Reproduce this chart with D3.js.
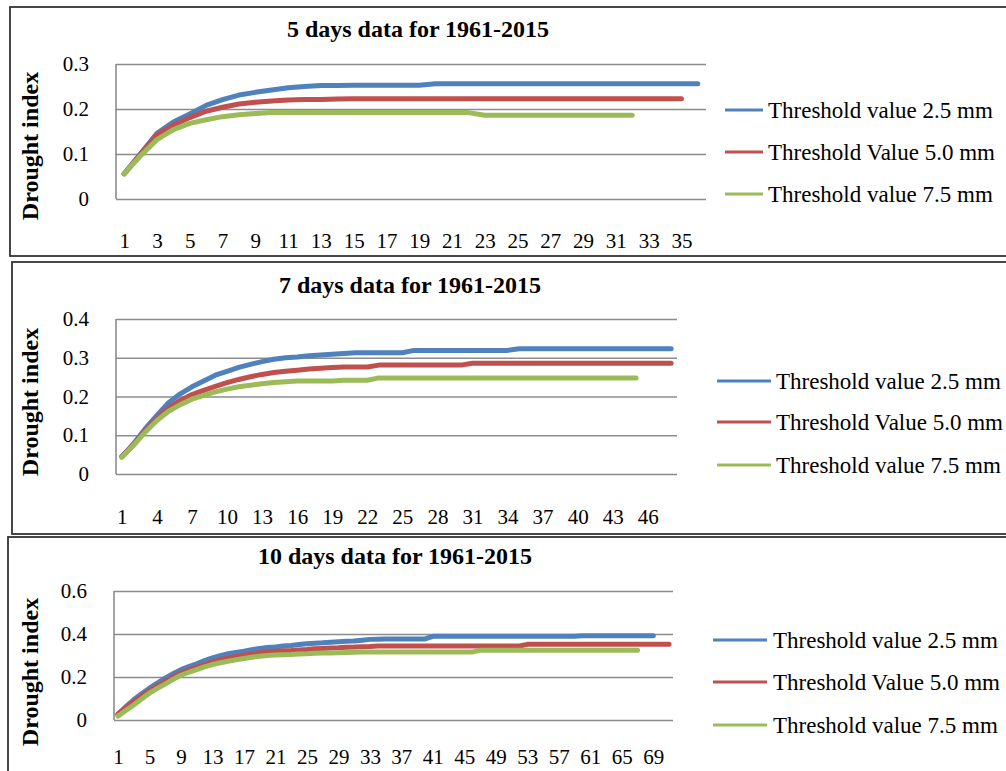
<!DOCTYPE html>
<html>
<head>
<meta charset="utf-8">
<script src="https://cdn.jsdelivr.net/npm/d3@7"></script>
<style>
  body { margin: 0; background: #fff; }
  text { font-family: "Liberation Serif", "Times New Roman", serif; fill: #000; }
</style>
</head>
<body>
<div id="chart"></div>
<script>
// Drought index curves
const seriesNames = ["Threshold value 2.5 mm", "Threshold Value 5.0 mm", "Threshold value 7.5 mm"];
const colors = ["#4f81bd", "#c0504d", "#9bbb59"];

// 5 days (36 categories)
const blue5 = [0.056, 0.101, 0.146, 0.171, 0.189, 0.208, 0.221, 0.231, 0.237, 0.242, 0.247, 0.250, 0.252, 0.252, 0.253, 0.253, 0.253, 0.253, 0.253,
  0.256, 0.256, 0.256, 0.256, 0.256, 0.256, 0.256, 0.256, 0.256, 0.256, 0.256, 0.256, 0.256, 0.256, 0.256, 0.256, 0.256];
const red5 = [0.056, 0.100, 0.143, 0.164, 0.181, 0.195, 0.204, 0.211, 0.215, 0.218, 0.220, 0.221, 0.221, 0.222,
  0.223, 0.223, 0.223, 0.223, 0.223, 0.223, 0.223, 0.223, 0.223, 0.223, 0.223, 0.223, 0.223, 0.223, 0.223, 0.223, 0.223, 0.223, 0.223, 0.223, 0.223];
const green5 = [0.056, 0.096, 0.132, 0.154, 0.168, 0.176, 0.183, 0.187, 0.190, 0.192,
  0.192, 0.192, 0.192, 0.192, 0.192, 0.192, 0.192, 0.192, 0.192, 0.192, 0.192, 0.192,
  0.186, 0.186, 0.186, 0.186, 0.186, 0.186, 0.186, 0.186, 0.186, 0.186];

// 7 days (48 categories)
const blue7 = [0.045, 0.078, 0.117, 0.151, 0.184, 0.207, 0.225, 0.240, 0.255, 0.265, 0.275, 0.283, 0.290, 0.296, 0.300, 0.302, 0.305, 0.307, 0.309, 0.311,
  0.313, 0.313, 0.313, 0.313, 0.313,
  0.319, 0.319, 0.319, 0.319, 0.319, 0.319, 0.319, 0.319, 0.319,
  0.323, 0.323, 0.323, 0.323, 0.323, 0.323, 0.323, 0.323, 0.323, 0.323, 0.323, 0.323, 0.323, 0.323];
const red7 = [0.045, 0.075, 0.112, 0.144, 0.170, 0.190, 0.205, 0.216, 0.226, 0.236, 0.244, 0.251, 0.257, 0.262, 0.265, 0.268, 0.271, 0.273, 0.275, 0.276, 0.276, 0.276,
  0.281, 0.281, 0.281, 0.281, 0.281, 0.281, 0.281, 0.281,
  0.286, 0.286, 0.286, 0.286, 0.286, 0.286, 0.286, 0.286, 0.286, 0.286, 0.286, 0.286, 0.286, 0.286, 0.286, 0.286, 0.286, 0.286];
const green7 = [0.043, 0.074, 0.108, 0.138, 0.162, 0.179, 0.193, 0.203, 0.212, 0.219, 0.225, 0.229, 0.233, 0.236, 0.238, 0.240, 0.240, 0.240, 0.240, 0.242, 0.242, 0.242,
  0.248, 0.248, 0.248, 0.248, 0.248, 0.248, 0.248, 0.248, 0.248, 0.248, 0.248, 0.248, 0.248, 0.248, 0.248, 0.248, 0.248, 0.248, 0.248, 0.248, 0.248, 0.248, 0.248];

// 10 days (71 categories)
const blue10 = [0.025, 0.062, 0.094, 0.122, 0.148, 0.172, 0.195, 0.215, 0.234, 0.248, 0.261, 0.276, 0.289, 0.299, 0.308, 0.314, 0.320, 0.327, 0.333, 0.337,
  0.340, 0.344, 0.347, 0.351, 0.355, 0.357, 0.359, 0.362, 0.364, 0.366, 0.367, 0.371, 0.375, 0.376,
  0.377, 0.377, 0.377, 0.377, 0.377, 0.377,
  0.389, 0.389, 0.389, 0.389, 0.389, 0.389, 0.389, 0.389, 0.389, 0.389, 0.389, 0.389, 0.389, 0.389, 0.389, 0.389, 0.389, 0.389, 0.389,
  0.392, 0.392, 0.392, 0.392, 0.392, 0.392, 0.392, 0.392, 0.392, 0.392];
const red10 = [0.028, 0.058, 0.086, 0.112, 0.136, 0.159, 0.180, 0.200, 0.219, 0.233, 0.245, 0.258, 0.270, 0.280, 0.289, 0.296, 0.302, 0.308, 0.313, 0.317,
  0.320, 0.322, 0.323, 0.326, 0.328, 0.331, 0.333, 0.335, 0.336, 0.338, 0.339, 0.341, 0.342,
  0.344, 0.344, 0.344, 0.344, 0.344, 0.344, 0.344, 0.344, 0.344, 0.344, 0.344, 0.344, 0.344, 0.344, 0.344, 0.344, 0.344, 0.344, 0.344,
  0.352, 0.352, 0.352, 0.352, 0.352, 0.352, 0.352, 0.352, 0.352, 0.352, 0.352, 0.352, 0.352, 0.352, 0.352, 0.352, 0.352, 0.352, 0.352];
const green10 = [0.018, 0.044, 0.070, 0.098, 0.125, 0.147, 0.167, 0.189, 0.208, 0.222, 0.234, 0.247, 0.258, 0.266, 0.273, 0.280, 0.286, 0.292, 0.297, 0.300,
  0.302, 0.304, 0.305, 0.307, 0.308, 0.310, 0.312, 0.312, 0.313, 0.314, 0.315, 0.316,
  0.316, 0.316, 0.316, 0.316, 0.316, 0.316, 0.316, 0.316, 0.316, 0.316, 0.316, 0.316, 0.316, 0.316,
  0.325, 0.325, 0.325, 0.325, 0.325, 0.325, 0.325, 0.325, 0.325, 0.325, 0.325, 0.325, 0.325, 0.325, 0.325, 0.325, 0.325, 0.325, 0.325, 0.325, 0.325];

const titles = ["5 days data for 1961-2015", "7 days data for 1961-2015", "10 days data for 1961-2015"];
const categoryCounts = [36, 48, 71];
const yMaxes = [0.3, 0.4, 0.6];
const yTickValues = [[0, 0.1, 0.2, 0.3], [0, 0.1, 0.2, 0.3, 0.4], [0, 0.2, 0.4, 0.6]];
const labelEvery = [2, 3, 4];

// layout of the three stacked panels
const panels = [
  { box: [10, 7, 1020, 249], plot: { l: 116, r: 706, t: 64, b: 199 }, title: [418, 37], ylab: [30, 146], xlabY: 248,
    leg: { x0: 725, x1: 763, tx: 768, rows: [110, 152, 194] } },
  { box: [12, 262, 1020, 272], plot: { l: 116, r: 677, t: 319, b: 474 }, title: [410, 293], ylab: [30, 402], xlabY: 524,
    leg: { x0: 717, x1: 771, tx: 776, rows: [381, 422, 465] } },
  { box: [8, 537, 1020, 260], plot: { l: 114, r: 673, t: 591, b: 720 }, title: [395, 564], ylab: [30, 672], xlabY: 764,
    leg: { x0: 713, x1: 767, tx: 773, rows: [640, 682, 725] } }
];
const allSeries = [[blue5, red5, green5], [blue7, red7, green7], [blue10, red10, green10]];

const svg = d3.select("#chart").append("svg")
  .attr("width", 1006).attr("height", 771);

panels.forEach((p, i) => {
  const g = svg.append("g");
  const cats = d3.range(1, categoryCounts[i] + 1);

  g.append("rect")
    .attr("x", p.box[0]).attr("y", p.box[1])
    .attr("width", p.box[2]).attr("height", p.box[3])
    .attr("fill", "#fff").attr("stroke", "#333").attr("stroke-width", 1.8);

  const x = d3.scalePoint().domain(cats).range([p.plot.l, p.plot.r]).padding(0.5);
  const y = d3.scaleLinear().domain([0, yMaxes[i]]).range([p.plot.b, p.plot.t]);

  // gridlines + y labels
  const yAxis = g.append("g")
    .attr("transform", `translate(${p.plot.l},0)`)
    .call(d3.axisLeft(y).tickValues(yTickValues[i]).tickSize(-(p.plot.r - p.plot.l)).tickPadding(27)
      .tickFormat(d => d === 0 ? "0" : d3.format(".1f")(d)));
  yAxis.select(".domain").remove();
  yAxis.selectAll("line").attr("stroke", "#8c8c8c").attr("stroke-width", 1.6);
  yAxis.selectAll("text").attr("font-size", 21).attr("font-family", "Liberation Serif");

  // left axis line
  g.append("line")
    .attr("x1", p.plot.l).attr("x2", p.plot.l)
    .attr("y1", p.plot.t).attr("y2", p.plot.b)
    .attr("stroke", "#8c8c8c").attr("stroke-width", 1.6);

  // x labels
  const xAxis = g.append("g")
    .attr("transform", `translate(0,${p.plot.b})`)
    .call(d3.axisBottom(x).tickValues(cats.filter(c => (c - 1) % labelEvery[i] === 0)).tickSize(0).tickPadding(0));
  xAxis.select(".domain").remove();
  xAxis.selectAll("text")
    .attr("y", p.xlabY - p.plot.b).attr("dy", 0)
    .attr("font-size", 21).attr("font-family", "Liberation Serif");

  // lines
  const line = d3.line().x((d, k) => x(k + 1)).y(d => y(d));
  allSeries[i].forEach((vals, s) => {
    g.append("path")
      .datum(vals)
      .attr("d", line)
      .attr("fill", "none")
      .attr("stroke", colors[s])
      .attr("stroke-width", 5)
      .attr("stroke-linecap", "round")
      .attr("stroke-linejoin", "round");
  });

  // title
  g.append("text")
    .attr("x", p.title[0]).attr("y", p.title[1])
    .attr("text-anchor", "middle")
    .attr("font-size", 24).attr("font-weight", "bold")
    .text(titles[i]);

  // y title
  g.append("text")
    .attr("transform", `translate(${p.ylab[0] + 8},${p.ylab[1]}) rotate(-90)`)
    .attr("text-anchor", "middle")
    .attr("font-size", 24).attr("font-weight", "bold")
    .text("Drought index");

  // legend
  seriesNames.forEach((name, s) => {
    const ry = p.leg.rows[s];
    g.append("line")
      .attr("x1", p.leg.x0).attr("x2", p.leg.x1)
      .attr("y1", ry).attr("y2", ry)
      .attr("stroke", colors[s]).attr("stroke-width", 3.2);
    g.append("text")
      .attr("x", p.leg.tx).attr("y", ry + 8)
      .attr("font-size", 23)
      .text(name);
  });
});
</script>
</body>
</html>
